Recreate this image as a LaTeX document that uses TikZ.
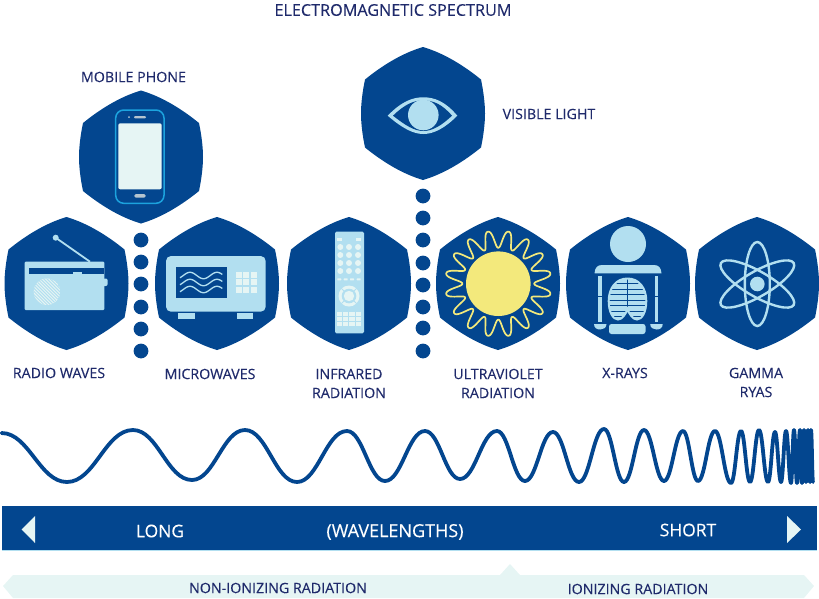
\documentclass[tikz,border=0pt]{standalone}
\usepackage{fontspec}
\setmainfont[FakeBold=0.2]{Open Sans}
\definecolor{navy}{HTML}{03468F}
\definecolor{lite}{HTML}{B2DFF0}
\definecolor{pale}{HTML}{E6F5F4}
\definecolor{ink}{HTML}{1F2A6B}
\definecolor{sun}{HTML}{F3E97C}
\definecolor{phoneblue}{HTML}{1CA3DE}
\definecolor{keygray}{HTML}{B4C4D0}
\tikzset{
  x=1pt,y=-1pt,
  lbl/.style={text=ink,font=\fontsize{14.25}{19}\selectfont,inner sep=0pt,align=center},
  titlelbl/.style={lbl,font=\fontsize{16.2}{19}\selectfont},
  barlbl/.style={text=white,font=\fontsize{17.4}{20}\selectfont,inner sep=0pt},
  hexa/.pic={\fill[navy] (0,-66.5) .. controls (22,-60) and (42,-47) .. (58,-34)
     .. controls (60.5,-22) and (62,-10) .. (62,0)
     .. controls (62,10) and (60.5,22) .. (58,34)
     .. controls (42,47) and (22,60) .. (0,66.5)
     .. controls (-22,60) and (-42,47) .. (-58,34)
     .. controls (-60.5,22) and (-62,10) .. (-62,0)
     .. controls (-62,-10) and (-60.5,-22) .. (-58,-34)
     .. controls (-42,-47) and (-22,-60) .. (0,-66.5) -- cycle;},
  dotc/.style={fill=navy,draw=none},
  wave/.style={draw=navy,line width=3.8pt,line cap=round,line join=round},
}
\pgfmathdeclarefunction{sunr}{1}{%
  \pgfmathparse{44.5+9*(cos(16*(#1-11.25))-0.05*cos(3*mod(16*(#1-11.25),360)))}%
}
\begin{document}
\begin{tikzpicture}
\useasboundingbox (0,0) rectangle (819,598);
% hexagons
\foreach \p in {(141,157),(66.5,283.5),(217,283.5),(349,283.5),(498,283.5),(423,113.5),(628,283.5),(757,283.5)}
  \pic at \p {hexa};
% dots
\foreach \yy in {240,262,284,307,329,351} \fill[dotc] (141,\yy) circle (7.4);
\foreach \yy in {196,218,240,263,285,307,328,351} \fill[dotc] (423,\yy) circle (7.4);
% phone
\draw[phoneblue,line width=1.5pt,fill=navy,rounded corners=8pt] (115.7,110) rectangle (164,203.3);
\fill[pale,rounded corners=2pt] (118.3,123.3) rectangle (161.7,189.3);
\fill[keygray,rounded corners=1pt] (134,116) rectangle (146,118.4);
\fill[keygray] (129,117.2) circle (1);
\fill[keygray,rounded corners=1.5pt] (134.3,194) rectangle (145.7,197.7);
% radio
\draw[lite,line width=1.8pt] (55.7,237.7) -- (90,261.7);
\fill[lite] (55.7,237.7) circle (3);
\fill[lite,rounded corners=1pt] (24.7,261.7) rectangle (104.3,310);
\fill[lite,rounded corners=2pt] (102,278.5) rectangle (107.7,286);
\fill[navy] (29,268.3) rectangle (104.3,273.7);
\fill[lite] (73.3,271.5) rectangle (81.7,273.7);
\begin{scope}
\clip (47,291.7) circle (13.3);
\fill[pale] (47,291.7) circle (13.3);
\foreach \k in {-10,...,10} \draw[lite,line width=1pt] (47+\k*3.2-16,275.7) -- (47+\k*3.2+16,307.7);
\end{scope}
% microwave
\fill[lite,rounded corners=5pt] (166,256) rectangle (265.7,311.7);
\fill[lite] (178.3,312.7) rectangle (195,319.3);
\fill[lite] (236.7,312.7) rectangle (253.3,319.3);
\fill[navy] (176,267.3) rectangle (227.3,298.3);
\foreach \yy in {275.5,282.5,289.5}
  \draw[lite,line width=1.3pt] plot[domain=180:222.3,samples=60] (\x,{\yy-3.2*cos((\x-190)*360/27)});
\foreach \xx in {236,243.4,250.8} \foreach \yy in {272,279.3,286.6}
  \fill[pale] (\xx,\yy) rectangle (\xx+6,\yy+6);
% remote
\fill[lite,rounded corners=1.5pt] (335,231.7) rectangle (364,333.3);
\foreach \xx in {339.3,358.7} \fill[pale] (\xx-2.5,237.7) rectangle (\xx+2.5,240.9);
\foreach \xx in {340.3,349,358} \foreach \yy in {247,255,263,271} \fill[pale] (\xx,\yy) circle (3);
\foreach \xx in {339.3,345.7,352,358.7} \fill[pale,rounded corners=0.5pt] (\xx-2,278.3) rectangle (\xx+2,280.3);
\fill[pale] (349,296) circle (10.5);
\fill[lite] (349,296) circle (7.3);
\fill[pale] (349,296) circle (5.2);
\foreach \a in {45,135,225,315} \draw[lite,line width=1pt] (349,296) ++(\a:7.3) -- ++(\a:3.5);
\foreach \xx in {339.3,345.7,352,358.7} \foreach \yy in {314.3,319.3,324.3}
  \fill[pale] (\xx-2.6,\yy-1.9) rectangle (\xx+2.6,\yy+1.9);
% eye
\fill[lite] (387.7,115.7) .. controls (402,101) and (413,97.3) .. (423.3,97.3) .. controls (434,97.3) and (445,101) .. (457.3,115.7)
   .. controls (445,128) and (434,134) .. (423.3,134) .. controls (413,134) and (402,128) .. (387.7,115.7) -- cycle;
\fill[navy] (393,115.7) .. controls (405,104) and (414,100.4) .. (423.3,100.4) .. controls (433,100.4) and (442,104) .. (452,115.7)
   .. controls (442,125) and (433,131) .. (423.3,131) .. controls (414,131) and (405,125) .. (393,115.7) -- cycle;
\fill[lite] (423.3,115) circle (15.3);
% sun
\draw[sun,line width=1.7pt,line join=round] plot[domain=0:360,samples=481] ({498.3+sunr(\x)*cos(\x)},{283.7+sunr(\x)*sin(\x)}) -- cycle;
\fill[sun] (498.3,283.7) circle (32.3);
% x-ray
\fill[lite] (628,244) circle (18);
\fill[lite] (594.5,273.3) .. controls (595,268) and (597,265) .. (602,265) -- (654,265) .. controls (659,265) and (661,268) .. (661.5,273.3) -- cycle;
\foreach \xx in {598.3,654.7} {
  \fill[lite] (\xx,276) rectangle (\xx+3.7,296.4);
  \fill[lite] (\xx,297.1) rectangle (\xx+3.7,321.7);}
\def\lungs{(627.5,278.5) .. controls (639,278.5) and (646.3,288) .. (646.3,301) .. controls (646.3,312) and (642,319.5) .. (637,319.5)
  .. controls (633,319.5) and (629,314) .. (627.5,309) .. controls (626,314) and (622,319.5) .. (618,319.5)
  .. controls (613,319.5) and (608.7,312) .. (608.7,301) .. controls (608.7,288) and (616,278.5) .. (627.5,278.5) -- cycle}
\begin{scope}
\clip \lungs;
\fill[lite] (600,270) rectangle (655,330);
\foreach \yy in {283.5,289,294.5,300,305.5,311,316.5} \draw[navy,line width=1pt] (605,\yy) -- (652,\yy);
\draw[navy,line width=1pt] (627.5,270) -- (627.5,309);
\end{scope}
\draw[lite,line width=2pt] \lungs;
\fill[lite,rounded corners=2.5pt] (609,324) -- (609,334) -- (645.5,334) -- (645.5,324) -- cycle;
\fill[lite] (594,324) -- (606.5,324) .. controls (606.5,328) and (603,329.5) .. (600.2,329.5) .. controls (597,329.5) and (594,328) .. (594,324) -- cycle;
\fill[lite] (650.2,324) -- (662.7,324) .. controls (662.7,328) and (659.7,329.5) .. (656.5,329.5) .. controls (653.7,329.5) and (650.2,328) .. (650.2,324) -- cycle;
% atom
\foreach \a in {0,60,120}
  \draw[lite,line width=2.4pt,rotate around={\a:(757.3,284)}] (757.3,284) ellipse (12.5 and 42);
\fill[lite] (757.3,284) circle (7.3);
% wave
\def\wavepts{67/482,133/430,192/480,245/430,297/482,347/431,385/481,425/431,460/479,497/431,525/481,553/432,579/482,604/429,624/482,644/430,664/481,683/431,698/481,715/431,731/483,741/431,750/482,759/430,768/482,775/432,781/482,786/431,791/483,794/430,797/483,800/430,802/483,804/430,806/482,808/430,810/482,811/430,813/482}
\draw[wave] (1.5,433)
  \foreach \xa/\ya [remember=\xa as \xp (initially 1.5),remember=\ya as \yp (initially 433)] in \wavepts {
    .. controls ({\xp+0.42*(\xa-\xp)},\yp) and ({\xa-0.42*(\xa-\xp)},\ya) .. (\xa,\ya)};
% bar
\fill[lite] (2,550) rectangle (817,551);
\fill[navy] (2,506) rectangle (817,550);
\fill[pale] (21.7,529.5) -- (35,516) -- (35,543) -- cycle;
\fill[pale] (801,529.5) -- (787,516) -- (787,543) -- cycle;
% band
\fill[pale] (3,586) -- (13,575) -- (500,575) -- (510,564) -- (520,575) -- (804,575) -- (814,586) -- (804,598) -- (13,598) -- cycle;
% labels
\node[titlelbl] (title) at (393,10) {ELECTROMAGNETIC SPECTRUM};
\node[lbl] (mobile) at (133.5,77) {MOBILE PHONE};
\node[lbl] (visible) at (549,114) {VISIBLE LIGHT};
\node[lbl] (radio) at (59,373) {RADIO WAVES};
\node[lbl] (micro) at (210,374) {MICROWAVES};
\node[lbl] (infra) at (349,383.5) {INFRARED\\RADIATION};
\node[lbl] (ultra) at (498,383.5) {ULTRAVIOLET\\RADIATION};
\node[lbl] (xrays) at (625,373) {X-RAYS};
\node[lbl] (gamma) at (756,382.5) {GAMMA\\RYAS};
\node[barlbl] (long) at (160,531) {LONG};
\node[barlbl,font=\fontsize{18}{20}\selectfont] (wl) at (395,532) {(WAVELENGTHS)};
\node[barlbl] (short) at (688,530) {SHORT};
\node[lbl] (nonion) at (278,588) {NON-IONIZING RADIATION};
\node[lbl] (ion) at (638,589) {IONIZING RADIATION};
\end{tikzpicture}
\end{document}
